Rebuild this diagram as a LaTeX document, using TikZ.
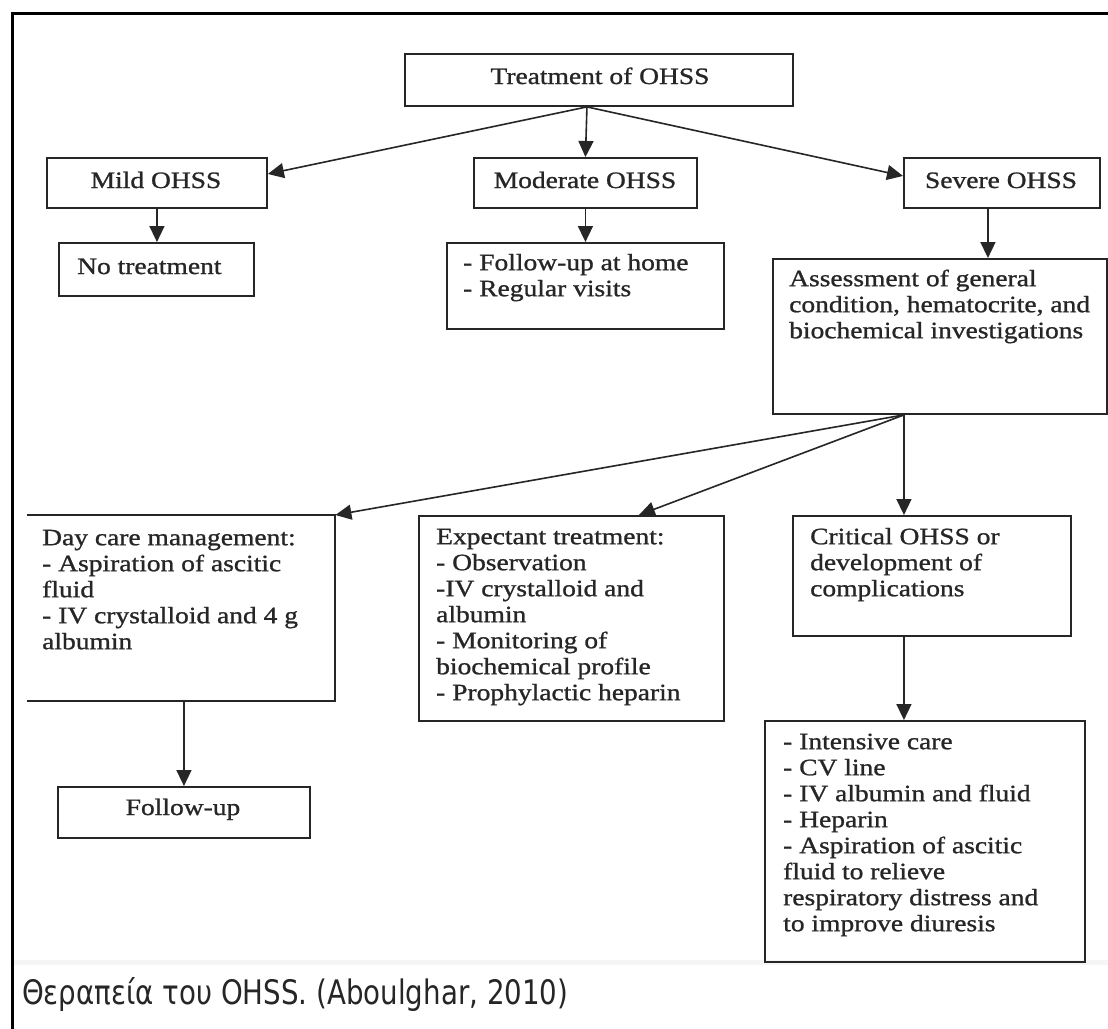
\documentclass[tikz,border=0pt]{standalone}
\usepackage{fontspec}
\setmainfont{Liberation Serif}
\newfontfamily\tnr[FakeStretch=1.17,FakeBold=1]{Liberation Serif}
\newfontfamily\capfont{DejaVu Sans}
\usetikzlibrary{arrows.meta}
\definecolor{ln}{HTML}{262626}
\definecolor{tx}{HTML}{262626}
\begin{document}
\begin{tikzpicture}[x=1pt,y=-1pt,
  box/.style={draw=ln, line width=1.9pt, rectangle, inner sep=0pt, anchor=north west},
  openbox/.style={rectangle, inner sep=0pt, anchor=north west},
  txt/.style={text=tx, font=\tnr\fontsize{23.5}{26}\selectfont, inner sep=0pt, anchor=north west, align=left},
  ctxt/.style={text=tx, font=\tnr\fontsize{23.5}{26}\selectfont, inner sep=0pt, anchor=base},
  arr/.style={draw=ln, line width=1.6pt, -{Triangle[length=16pt,width=15pt]}},
]
\useasboundingbox (0,0) rectangle (1108,1028);
\fill[white] (0,0) rectangle (1108,1028);
% outer frame
\draw[black, line width=3pt] (12,1030) -- (12,13) -- (1110,13);
% faint band
\draw[black!4, line width=5pt] (14,962) -- (1108,962);

% boxes
\node[box, minimum width=388pt, minimum height=52pt] (treat) at (404,53) {};
\node[box, minimum width=220pt, minimum height=50pt] (mild) at (46,157) {};
\node[box, minimum width=223pt, minimum height=50pt] (mod) at (473,157) {};
\node[box, minimum width=196pt, minimum height=50pt] (sev) at (903,157) {};
\node[box, minimum width=195pt, minimum height=53pt] (notr) at (58,242) {};
\node[box, minimum width=277pt, minimum height=86pt] (fhome) at (446,242) {};
\node[box, minimum width=334pt, minimum height=155pt] (assess) at (772,258) {};
\node[openbox, minimum width=308pt, minimum height=186pt] (day) at (27,515) {};
\draw[ln, line width=1.9pt] (day.north west) -- (day.north east) -- (day.south east) -- (day.south west);
\node[box, minimum width=305pt, minimum height=205pt] (expect) at (418,515) {};
\node[box, minimum width=278pt, minimum height=120pt] (crit) at (792,515) {};
\node[box, minimum width=252pt, minimum height=51pt] (fup) at (57,786) {};
\node[box, minimum width=320pt, minimum height=241pt] (intens) at (764,720) {};

% texts
\node[ctxt] (treatT) at (600,84) {Treatment of OHSS};
\node[ctxt] (mildT) at (156,188) {Mild OHSS};
\node[ctxt] (modT) at (585,188) {Moderate OHSS};
\node[ctxt] (sevT) at (1001,188) {Severe OHSS};
\node[ctxt, anchor=base west] (notrT) at (77,274) {No treatment};
\node[txt] (fhomeT) at (463,252) {\rule{0pt}{18pt}- Follow-up at home\\ - Regular visits};
\node[txt] (assessT) at (789,268) {\rule{0pt}{18pt}Assessment of general\\ condition, hematocrite, and\\ biochemical investigations};
\node[txt] (dayT) at (42,527) {\rule{0pt}{18pt}Day care management:\\ - Aspiration of ascitic\\ fluid\\ - IV crystalloid and 4 g\\ albumin};
\node[txt] (expectT) at (436,526) {\rule{0pt}{18pt}Expectant treatment:\\ - Observation\\ -IV crystalloid and\\ albumin\\ - Monitoring of\\ biochemical profile\\ - Prophylactic heparin};
\node[txt] (critT) at (810,526) {\rule{0pt}{18pt}Critical OHSS or\\ development of\\ complications};
\node[ctxt] (fupT) at (183,815) {Follow-up};
\node[txt] (intensT) at (783,731) {\rule{0pt}{18pt}- Intensive care\\ - CV line\\ - IV albumin and fluid\\ - Heparin\\ - Aspiration of ascitic\\ fluid to relieve\\ respiratory distress and\\ to improve diuresis};

% caption
\node[anchor=base west, inner sep=0pt, text=tx] (cap) at (22,1004) {\resizebox{546pt}{27pt}{\capfont\fontsize{28}{30}\selectfont Θεραπεία του OHSS. (Aboulghar, 2010)}};

% connectors
\draw[arr] ([xshift=-12pt]treat.south) -- ([yshift=9pt]mild.east);
\draw[arr] ([xshift=-12pt]treat.south) -- (mod.north);
\draw[arr] ([xshift=-12pt]treat.south) -- ([yshift=7pt]sev.west);
\draw[arr] (mild.south) -- (mild.south |- notr.north);
\draw[arr] (mod.south) -- (mod.south |- fhome.north);
\draw[arr] ([xshift=-14pt]sev.south) -- ([xshift=-14pt]sev.south |- assess.north);
\draw[arr] ([xshift=-36pt]assess.south) -- (day.north east);
\draw[arr] ([xshift=-36pt]assess.south) -- ([xshift=67.5pt]expect.north);
\draw[arr] ([xshift=-36pt]assess.south) -- ([xshift=-36pt]assess.south |- crit.north);
\draw[arr] (fup.north |- day.south) -- (fup.north);
\draw[arr] ([xshift=-28pt]crit.south) -- ([xshift=-28pt]crit.south |- intens.north);
\end{tikzpicture}
\end{document}
